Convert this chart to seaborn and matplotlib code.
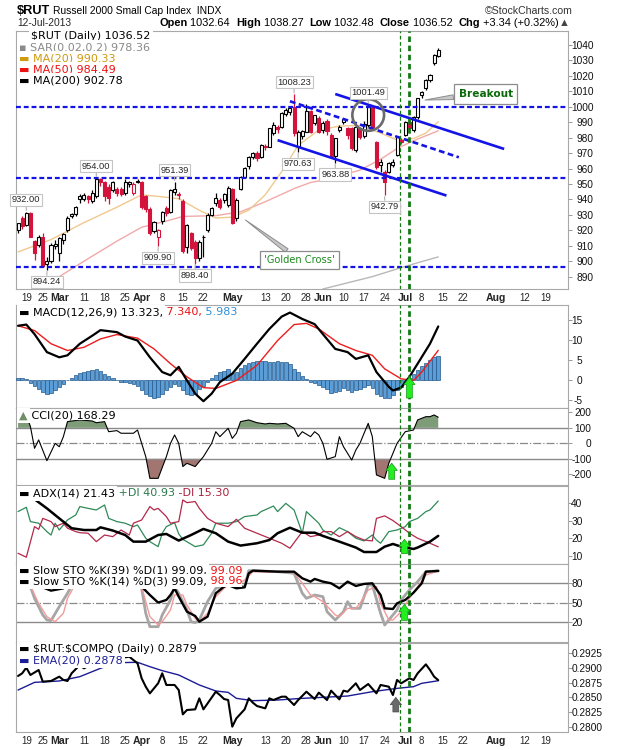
import numpy as np
import pandas as pd
import matplotlib
matplotlib.use('Agg')
import matplotlib.pyplot as plt
import seaborn as sns
from matplotlib.patches import Ellipse

sns.set_theme(style='white')
plt.rcParams['font.family'] = ['DejaVu Sans']
plt.rcParams['axes.unicode_minus'] = False

# ---------------- data ----------------
holidays = ['2013-02-18', '2013-03-29', '2013-05-27', '2013-07-04']
days = pd.bdate_range('2013-02-14', '2013-08-30')
days = days[~days.isin(pd.to_datetime(holidays))]

x_tick_dates = ['2013-02-19', '2013-02-25', '2013-03-01', '2013-03-11', '2013-03-18', '2013-03-25',
                '2013-04-01', '2013-04-08', '2013-04-15', '2013-04-22', '2013-05-01', '2013-05-13',
                '2013-05-20', '2013-05-28', '2013-06-03', '2013-06-10', '2013-06-17', '2013-06-24',
                '2013-07-01', '2013-07-08', '2013-07-15', '2013-07-22', '2013-08-01', '2013-08-12',
                '2013-08-19']
x_tick_labels = ['19', '25', 'Mar', '11', '18', '25', 'Apr', '8', '15', '22', 'May', '13', '20', '28',
                 'Jun', '10', '17', '24', 'Jul', '8', '15', '22', 'Aug', '12', '19']

opens = [920.0, 928.0, 923.5, 931.5, 913.0, 910.5, 916.0, 898.0, 900.0, 910.0,
         905.0, 914.0, 920.5, 929.0, 930.5, 940.0, 940.0, 942.0, 939.0, 942.0,
         953.5, 951.0, 948.0, 946.0, 947.0, 947.0, 944.0, 950.0, 944.5, 951.5,
         951.0, 942.0, 934.0, 919.5, 916.0, 926.0, 934.5, 932.0, 945.0, 943.5,
         939.0, 909.5, 918.0, 912.5, 902.0, 915.5, 920.5, 930.0, 937.5, 939.7,
         939.7, 936.5, 946.6, 927.8, 946.6, 954.8, 961.7, 967.7, 969.9, 967.7,
         974.5, 974.2, 982.8, 986.7, 986.7, 995.3, 996.9, 1000.1, 974.2, 981.0,
         984.0, 997.0, 989.5, 992.5, 985.0, 991.0, 982.0, 968.0, 985.0, 990.4,
         986.0, 986.0, 972.0, 986.0, 981.0, 988.2, 1000.0, 977.4, 962.3, 958.0,
         958.0, 962.3, 968.8, 978.5, 981.8, 990.0, 985.0, 993.6, 1007.6, 1012.0,
         1017.4, 1028.1, 1032.64]
highs = [925.0, 929.0, 932.0, 932.0, 914.0, 917.0, 918.0, 903.0, 912.0, 914.0,
         916.0, 918.0, 929.0, 931.5, 936.0, 943.5, 944.0, 943.0, 946.0, 954.0,
         954.0, 952.0, 950.0, 952.0, 948.0, 948.0, 953.0, 952.0, 951.0, 953.5,
         952.0, 943.0, 935.0, 926.0, 921.0, 932.5, 936.0, 947.0, 951.39, 945.0,
         940.0, 924.0, 919.0, 914.0, 913.5, 917.0, 931.0, 935.0, 944.0, 941.0,
         944.0, 948.5, 947.5, 940.8, 955.0, 961.0, 968.0, 971.0, 971.5, 976.0,
         976.0, 986.5, 990.0, 988.5, 996.5, 999.0, 1000.5, 1008.23, 985.0, 985.0,
         1002.0, 998.0, 995.0, 994.0, 991.0, 992.0, 983.0, 980.0, 988.0, 993.0,
         987.0, 987.0, 988.0, 987.0, 991.0, 1001.49, 1001.0, 978.0, 966.0, 959.0,
         964.0, 966.0, 981.0, 980.0, 991.0, 991.0, 994.0, 1006.0, 1010.0, 1018.0,
         1021.0, 1034.0, 1038.27]
lows = [918.5, 921.0, 923.0, 915.5, 901.0, 909.0, 896.0, 894.24, 899.0, 908.0,
        900.0, 911.0, 919.0, 928.0, 929.5, 938.0, 939.0, 938.0, 938.0, 941.0,
        949.0, 939.0, 937.0, 945.0, 942.0, 942.0, 943.0, 948.0, 943.0, 950.5,
        934.0, 932.0, 917.0, 918.0, 909.90, 924.0, 929.0, 931.5, 943.0, 940.0,
        905.0, 905.0, 907.0, 898.40, 900.0, 903.0, 919.0, 929.0, 936.0, 934.0,
        938.0, 935.0, 924.0, 926.0, 946.0, 954.0, 960.0, 966.0, 965.0, 967.0,
        972.0, 974.0, 982.0, 983.0, 986.0, 994.0, 995.0, 981.0, 970.63, 979.0,
        983.5, 983.0, 988.0, 983.0, 983.0, 982.0, 967.0, 963.88, 984.0, 989.0,
        979.0, 972.0, 971.0, 979.0, 980.0, 987.0, 986.0, 960.0, 958.0, 942.79,
        957.0, 961.0, 968.0, 976.0, 981.0, 985.0, 984.0, 992.0, 1006.0, 1011.0,
        1016.0, 1027.0, 1032.48]
closes = [924.5, 922.5, 931.5, 916.0, 905.5, 916.0, 897.0, 900.0, 910.5, 911.0,
          915.0, 917.5, 928.0, 930.5, 935.0, 942.5, 943.0, 940.0, 944.5, 953.0,
          951.5, 942.0, 941.0, 951.5, 944.0, 943.5, 951.0, 951.5, 950.0, 952.0,
          935.0, 933.5, 918.5, 925.5, 920.5, 932.0, 931.5, 946.0, 947.0, 943.0,
          906.3, 923.5, 908.5, 902.0, 912.5, 916.0, 930.0, 934.3, 940.8, 935.4,
          943.6, 947.2, 924.6, 939.7, 954.4, 960.2, 967.7, 970.3, 966.7, 975.3,
          974.0, 986.0, 988.2, 985.4, 995.8, 997.9, 999.0, 982.8, 983.9, 984.5,
          997.5, 984.0, 994.5, 984.0, 989.5, 984.5, 968.0, 979.5, 987.0, 992.0,
          981.8, 973.0, 987.0, 980.7, 989.0, 1000.0, 987.1, 961.3, 964.5, 951.6,
          963.4, 964.5, 980.7, 977.4, 990.4, 986.0, 993.6, 1005.5, 1009.8, 1017.4,
          1020.6, 1033.5, 1036.52]

ma20_x = [0, 8, 16, 24, 30, 34, 39, 44, 48, 52, 56, 60, 64, 68, 73, 78, 83, 88, 92, 96, 99, 102]
ma20_y = [906, 914, 925, 935, 943, 942, 940.5, 933, 928, 928.5, 933, 943, 958, 975, 985,
          987.5, 988, 983, 978.5, 979.5, 983, 990.33]
ma50_x = [4, 10, 16, 24, 30, 36, 40, 48, 54, 60, 67, 71, 75, 83, 88, 92, 96, 102]
ma50_y = [881, 890, 900, 913, 922, 926, 929, 929.5, 932, 938.5, 947, 951, 953, 959, 966, 973,
          978, 984.49]
ma200_x = [74, 80, 86, 92, 97, 102]
ma200_y = [882, 886, 890, 895, 899, 902.78]

support_levels = [1000, 954, 896]
channel_upper = ([77, 118], [1008.3, 972.7])
channel_lower = ([63, 104], [978.4, 942.5])
channel_mid = ([66, 107], [1003.6, 967.3])
peak_labels = [(2, 'up'), (7, 'down'), (19, 'up'), (34, 'down'), (38, 'up'), (43, 'down'),
               (67, 'up'), (68, 'down'), (77, 'down'), (85, 'up'), (89, 'down')]
signal_days = [92.8, 94.9]

macd_x = [0, 2, 4, 7, 10, 12, 15, 18, 20, 24, 26, 29, 32, 35, 37, 39, 41, 43, 45, 47, 49, 52,
          55, 58, 61, 64, 66, 69, 72, 74, 77, 80, 82, 85, 87, 90, 91, 93, 95, 97, 100, 102]
macd_y = [13.5, 13.8, 11.4, 6.9, 5.6, 6.1, 9.0, 11.0, 12.4, 11.9, 10.8, 9.8, 5.6, 1.9, 1.1,
          3.2, -0.2, -3.5, -5.4, -3.5, -0.6, 1.5, 5.2, 9.0, 12.7, 15.8, 16.8, 15.2, 13.9, 11.4,
          7.7, 6.9, 5.2, 6.1, 1.9, -1.8, -2.7, -2.0, 0.7, 4.0, 9.0, 13.323]
signal_x = [0, 4, 8, 12, 16, 20, 24, 29, 33, 37, 41, 45, 48, 53, 58, 63, 67, 70, 73, 78, 82,
            86, 89, 93, 96, 98, 102]
signal_y = [13.5, 12.3, 9.0, 7.3, 8.1, 10.2, 11.3, 10.4, 7.7, 4.0, 0.7, -2.0, -2.2, -0.2, 3.6,
            9.8, 13.8, 14.1, 12.7, 9.0, 7.3, 6.1, 2.7, 0.2, -0.2, 1.9, 7.34]
macd_hist = [0.3, 0.3, 0.1, -0.8, -1.5, -2.3, -3.2, -3.6, -3.4, -2.5,
             -1.9, -1.0, -0.2, 0.5, 1.2, 1.6, 2.0, 2.1, 2.5, 2.6,
             2.2, 1.4, 1.0, 0.3, -0.2, -0.5, -0.6, -0.8, -1.2, -1.5,
             -2.6, -3.5, -4.2, -4.5, -4.3, -3.6, -2.5, -1.8, -1.2, -1.5,
             -2.7, -3.5, -3.9, -3.5, -2.4, -1.5, -0.6, 0.4, 1.2, 1.9,
             2.2, 2.7, 1.7, 1.9, 2.8, 3.6, 4.2, 4.5, 4.6, 4.6,
             4.7, 4.5, 4.3, 4.6, 4.4, 4.3, 4.0, 2.7, 1.8, 1.0,
             0.2, -0.5, -0.9, -1.3, -1.8, -2.4, -3.3, -3.0, -2.8, -2.1,
             -2.6, -3.0, -2.7, -2.3, -1.9, -1.4, -2.1, -3.5, -4.0, -4.7,
             -4.5, -3.9, -2.7, -1.8, -0.5, 0.5, 1.3, 2.5, 3.5, 4.2,
             4.8, 5.6, 5.983]

cci_x = [0, 2, 3, 4, 5, 7, 9, 10, 11, 12, 15, 18, 19, 21, 22, 24, 25, 28, 29, 31, 32, 34, 36,
         37, 38, 39, 40, 41, 43, 45, 47, 48, 49, 51, 52, 53, 54, 56, 58, 60, 61, 63, 65, 67, 68,
         69, 71, 72, 73, 74, 75, 77, 78, 79, 81, 82, 83, 84, 85, 86, 87, 89, 90, 92, 94, 96, 97,
         99, 100, 101, 102]
cci_y = [194, 183, 108, -32, 22, -112, 0, -22, 43, 140, 151, 144, 133, 140, 75, 82, 65, 65, 86,
         -86, -226, -226, -86, 0, 54, 0, -150, -129, -150, -86, 0, 75, 43, 97, 32, 65, 140, 151,
         133, 125, 129, 125, 129, 97, 43, 75, 43, 75, 54, 0, -103, -86, 43, -22, -108, -43, 0,
         65, 129, 43, -204, -226, -129, 0, 75, 86, 151, 172, 172, 183, 168.29]

adx_x = [3, 4, 7, 10, 13, 16, 19, 20, 23, 26, 28, 31, 34, 36, 39, 42, 45, 48, 51, 54, 58, 61,
         63, 66, 69, 72, 74, 78, 82, 84, 87, 89, 91, 93, 94, 96, 97, 100, 102]
adx_y = [44.0, 41.9, 36.8, 31.2, 25.7, 24.7, 24.7, 26.2, 24.4, 21.9, 18.2, 18.2, 21.9,
         22.5, 18.8, 21.9, 25.3, 22.9, 18.2, 16.0, 17.3, 19.1, 22.9, 26.0, 23.2, 23.2, 21.4, 18.2,
         14.9, 12.4, 12.4, 15.4, 16.9, 15.4, 14.9, 14.1, 14.9, 18.2, 21.43]
pdi_x = [0, 2, 3, 5, 7, 8, 9, 10, 12, 14, 15, 17, 19, 21, 22, 24, 26, 28, 29, 31, 32, 34, 35,
         36, 38, 39, 40, 43, 45, 47, 48, 51, 53, 55, 58, 59, 62, 63, 65, 67, 69, 70, 73, 74, 76,
         78, 80, 82, 84, 86, 87, 88, 90, 92, 94, 95, 97, 99, 100, 102]
pdi_y = [35.0, 37.4, 29.4, 28.5, 23.8, 21.9, 28.5, 24.7, 30.3, 33.1, 37.8, 36.8, 35.9, 38.7,
         31.2, 29.4, 28.5, 26.6, 27.5, 20.1, 18.2, 15.4, 22.9, 26.6, 28.8, 22.5, 19.5, 15.4,
         16.4, 22.9, 28.5, 28.5, 29.4, 32.2, 33.1, 35.0, 38.1, 35.0, 39.6, 35.9, 22.9, 35.0,
         28.5, 24.7, 21.9, 26.0, 23.8, 20.1, 18.6, 21.9, 19.1, 17.3, 23.8, 24.7, 26.6, 29.4,
         31.2, 35.0, 35.9, 40.93]
mdi_x = [0, 2, 4, 5, 6, 8, 9, 11, 12, 14, 15, 17, 19, 21, 23, 25, 27, 28, 30, 32, 33, 34, 36,
         37, 39, 40, 41, 43, 44, 46, 48, 51, 53, 55, 58, 61, 64, 66, 69, 71, 73, 74, 76, 78, 80,
         82, 84, 86, 87, 89, 91, 93, 95, 97, 100, 102]
mdi_y = [11.7, 9.5, 26.6, 25.1, 31.2, 29.4, 26.6, 28.5, 25.7, 23.8, 23.2, 22.9, 18.2, 21.9,
         21.0, 24.7, 21.9, 28.5, 30.3, 37.8, 35.9, 36.8, 32.2, 28.5, 29.4, 41.5, 40.0, 40.6,
         36.8, 31.2, 28.5, 26.6, 30.7, 25.7, 22.9, 20.1, 17.3, 14.5, 23.8, 21.0, 21.9, 23.8,
         23.8, 21.0, 23.8, 21.0, 19.1, 18.6, 31.2, 32.6, 30.0, 26.6, 22.9, 20.1, 17.3, 15.30]

sto39_x = [0, 3, 6, 8, 11, 13, 16, 20, 24, 28, 30, 32, 34, 36, 37, 38, 39, 41, 43, 44, 46, 48,
           50, 51, 53, 55, 56, 57, 63, 67, 69, 71, 72, 74, 76, 78, 80, 82, 84, 86, 88, 89, 91,
           92, 94, 96, 98, 99, 102]
sto39_y = [85, 80, 73.8, 68.7, 72.3, 88, 96, 98, 93, 92, 74.9, 62, 50.3, 54.4, 62, 72.3, 59.5,
           36.4, 29.7, 21, 28.7, 64.6, 74.9, 77.4, 72.3, 73.8, 95.4, 99.5, 97.9, 97.9, 87.7,
           82.6, 86.7, 82.6, 80, 72.3, 82.6, 75.9, 79, 80, 62, 41.5, 40.5, 49.2, 54.4, 65.6, 80,
           97.9, 99.09]
sto14k_x = [0, 3, 4, 6, 7, 8, 10, 12, 14, 17, 21, 25, 29, 30, 31, 32, 34, 35, 37, 38, 39, 41,
            42, 43, 44, 46, 48, 50, 51, 53, 55, 56, 63, 67, 69, 70, 72, 74, 75, 77, 79, 80, 81,
            83, 84, 85, 86, 88, 89, 90, 92, 93, 95, 97, 99, 102]
sto14k_y = [90, 74.9, 56.9, 31.3, 23.6, 22.6, 44.1, 64.6, 88, 95, 92, 90, 85, 72.3, 33.8, 13.3,
            13.3, 31.3, 54.4, 74.9, 64.6, 39, 21, 19.5, 23.6, 51.8, 72.3, 75.9, 79, 75.9, 74.9,
            99.5, 97.9, 95.4, 64.6, 56.9, 62, 59.5, 36.4, 23.6, 36.4, 51.8, 41.5, 41.5, 59.5,
            77.4, 77.4, 33.8, 15.9, 23.6, 39, 54.4, 69.7, 82.6, 97.9, 99.09]
sto14d_x = [0, 3, 5, 7, 9, 11, 12, 14, 17, 21, 25, 29, 30, 32, 34, 35, 37, 38, 40, 41, 43, 44,
            46, 48, 50, 51, 53, 55, 57, 63, 67, 69, 71, 72, 74, 77, 78, 80, 82, 83, 85, 87, 88,
            90, 91, 93, 95, 97, 99, 102]
sto14d_y = [92, 75.9, 49.2, 28.7, 21, 33.8, 56.9, 80, 93, 93, 90, 87, 74.9, 28.7, 15.9, 21, 39,
            62, 62, 46.7, 26.2, 21, 33.8, 59.5, 72.3, 77.4, 77.4, 85.1, 97.9, 97.4, 96.4, 80, 62,
            59.5, 51.8, 31.3, 28.7, 41.5, 41.5, 49.2, 69.7, 74.9, 49.2, 23.6, 23.6, 36.4, 56.9,
            74.9, 92.8, 98.96]

ratio_x = [0, 1, 2, 3, 5, 6, 8, 10, 11, 12, 13, 15, 16, 17, 19, 21, 23, 25, 26, 27, 29, 30, 31,
           32, 34, 35, 36, 38, 39, 40, 41, 43, 44, 45, 48, 49, 50, 51, 52, 53, 55, 56, 57, 58,
           60, 61, 62, 64, 65, 67, 68, 70, 72, 73, 75, 76, 78, 79, 80, 82, 83, 85, 87, 88, 90,
           91, 92, 93, 95, 96, 97, 99, 100, 101, 102]
ratio_y = [0.28860, 0.28905, 0.29000, 0.28877, 0.28961, 0.28765, 0.28776, 0.28849, 0.28793,
           0.28776, 0.28905, 0.29045, 0.28989, 0.29028, 0.29120, 0.29180, 0.29150, 0.29213,
           0.29174, 0.29185, 0.29073, 0.28821, 0.28680, 0.28568, 0.28737, 0.28905, 0.28709,
           0.28709, 0.28624, 0.28215, 0.28288, 0.28299, 0.28484, 0.28299, 0.28596, 0.28540,
           0.28473, 0.28456, 0.28008, 0.28148, 0.28299, 0.28484, 0.28411, 0.28355, 0.28316,
           0.28484, 0.28456, 0.28512, 0.28512, 0.28372, 0.28456, 0.28596, 0.28473, 0.28580,
           0.28456, 0.28613, 0.28467, 0.28613, 0.28596, 0.28737, 0.28624, 0.28725, 0.28568,
           0.28709, 0.28680, 0.28540, 0.28793, 0.28737, 0.28821, 0.28793, 0.28905, 0.29056,
           0.28961, 0.28849, 0.28790]
ema_x = [0, 4, 10, 15, 20, 24, 29, 32, 35, 39, 44, 48, 51, 53, 57, 63, 69, 74, 80, 86, 92, 96,
         98, 102]
ema_y = [0.28624, 0.28753, 0.28776, 0.28849, 0.28989, 0.29084, 0.29090, 0.29017, 0.28950,
         0.28877, 0.28709, 0.28608, 0.28585, 0.28484, 0.28445, 0.28456, 0.28484, 0.28501,
         0.28523, 0.28596, 0.28652, 0.28680, 0.28737, 0.28780]

# ---------------- layout ----------------
W, H = 620, 750
L, R = 16, 568
RED = '#d4133c'
GREEN_V = '#137a13'
AF = ['Liberation Sans', 'DejaVu Sans']   # arial-like face for axis numbers / header
LEG = 8.0

fig = plt.figure(figsize=(W / 100, H / 100), dpi=100)
fig.patch.set_facecolor('white')

tick_pos = [int(np.where(days == pd.Timestamp(d))[0][0]) for d in x_tick_dates]
panels = []


def panel(top, bottom, ylim, yticks, fmt='{:g}'):
    ax = fig.add_axes([L / W, 1 - bottom / H, (R - L) / W, (bottom - top) / H])
    ax.set_facecolor('white')
    for s in ax.spines.values():
        s.set_color('#a8a8a8')
        s.set_linewidth(0.8)
    ax.yaxis.tick_right()
    ax.set_yticks(yticks)
    ax.set_yticklabels([fmt.format(v) for v in yticks], family=AF, ha='right')
    ax.tick_params(axis='y', direction='out', length=3, width=0.6, color='#888888',
                   labelsize=7.3, labelcolor='#111111')
    ax.set_xticks([])
    ax.grid(False)
    ax._lim = (ylim, top, bottom)
    panels.append(ax)
    return ax


def finish(ax):
    ylim, _, _ = ax._lim
    ax.set_xlim(-0.5, 133.5)
    ax.set_ylim(*ylim)
    ax.set_xlabel('')
    ax.set_ylabel('')


def date_axis(ax):
    ax.set_xticks(tick_pos)
    ax.set_xticklabels(x_tick_labels, family=AF)
    ax.tick_params(axis='x', direction='out', length=2, width=0.6, color='#888888',
                   labelsize=7.0, pad=1.2)
    for t in ax.get_xticklabels():
        if t.get_text().isalpha():
            t.set_fontweight('bold')
            t.set_fontsize(7.6)


def legend_row(ax, xf, yf, parts, size=LEG, family=None, bg=True):
    prev = None
    for s, c, w in parts:
        kw = dict(fontsize=size, color=c, fontweight=w, va='center', ha='left', zorder=30)
        if family:
            kw['family'] = family
        if bg:
            kw['bbox'] = dict(fc='white', ec='none', pad=1.6 if prev is None else 0.0)
        if prev is None:
            prev = ax.text(xf, yf, s, transform=ax.transAxes, **kw)
        else:
            prev = ax.annotate(s, xy=(1, 0.5), xycoords=prev, **kw)


def panel_legend(ax, ypix, parts, xpix=19):
    _, top, bottom = ax._lim
    legend_row(ax, (xpix - L) / (R - L), (bottom - ypix) / (bottom - top), parts)


def signal_marks(ax):
    ax.axvline(signal_days[0], color=GREEN_V, lw=0.9, ls=(0, (3, 2)), zorder=12)
    ax.axvline(signal_days[1], color=GREEN_V, lw=2.0, ls=(0, (2, 1.3)), zorder=12)


def up_arrow(ax, x, y0, y1, fc='#22ee22', ec='#119911'):
    ax.annotate('', xy=(x, y1), xytext=(x, y0), zorder=25,
                arrowprops=dict(arrowstyle='simple,head_width=1.15,head_length=0.75,tail_width=0.6',
                                fc=fc, ec=ec, lw=0.5, shrinkA=0, shrinkB=0, mutation_scale=7))


def line(ax, x, y, color, lw, z=5, alpha=1.0):
    sns.lineplot(x=x, y=y, ax=ax, color=color, lw=lw, sort=False, estimator=None,
                 zorder=z, alpha=alpha)


# ---------------- header ----------------
hdr = fig.add_axes([0, 0, 1, 1])
hdr.axis('off')
legend_row(hdr, 17 / W, 1 - 11 / H, [('\\$RUT', 'black', 'bold')], size=9.2, family=AF, bg=False)
legend_row(hdr, 53 / W, 1 - 11 / H, [('Russell 2000 Small Cap Index', 'black', 'normal'),
                                     ('  INDX', 'black', 'normal')], size=7.4, family=AF, bg=False)
hdr.text(573 / W, 1 - 11 / H, '\u00a9StockCharts.com', ha='right', va='center', fontsize=7.6,
         family=AF, color='#333333')
hdr.text(17 / W, 1 - 23.5 / H, '12-Jul-2013', ha='left', va='center', fontsize=7.4, family=AF)
legend_row(hdr, 159 / W, 1 - 23.5 / H,
           [('Open', 'black', 'bold'), (' 1032.64  ', 'black', 'normal'),
            ('High', 'black', 'bold'), (' 1038.27  ', 'black', 'normal'),
            ('Low', 'black', 'bold'), (' 1032.48  ', 'black', 'normal'),
            ('Close', 'black', 'bold'), (' 1036.52  ', 'black', 'normal'),
            ('Chg', 'black', 'bold'), (' +3.34 (+0.32%)', 'black', 'normal'),
            ('\u25b2', '#444444', 'normal')], size=7.9, family=AF, bg=False)

# ---------------- price panel ----------------
ax = panel(31, 289, (882.0, 1049.1), list(range(890, 1041, 10)))
line(ax, ma200_x, ma200_y, '#b8b8b8', 1.0, z=3)
line(ax, ma50_x, ma50_y, '#f3a9a9', 1.0, z=3)
line(ax, ma20_x, ma20_y, '#f0c98e', 1.0, z=3)

for i, (o, h, lo, c) in enumerate(zip(opens, highs, lows, closes)):
    prev = closes[i - 1] if i else o
    col = RED if c < prev else 'black'
    ax.vlines(i, lo, h, color=col, lw=0.9, zorder=6)
    body = max(abs(c - o), 0.45)
    ax.bar(i, body, bottom=min(o, c), width=0.74, color='white' if c >= o else col,
           edgecolor=col, lw=0.8, zorder=7)

for lvl in support_levels:
    ax.axhline(lvl, color='#1414e6', lw=1.6, ls=(0, (2.2, 1.3)), zorder=8)
for (xs, ys), style in [(channel_upper, '-'), (channel_lower, '-'), (channel_mid, (0, (2.2, 1.3)))]:
    ax.plot(xs, ys, color='#1414e6', lw=1.9, ls=style, zorder=9, solid_capstyle='butt')
ax.add_patch(Ellipse((85, 994.7), 7.7, 20.5, fill=False, ec='#6a6a6a', lw=1.9, zorder=10))
signal_marks(ax)

for i, side in peak_labels:
    v = highs[i] if side == 'up' else lows[i]
    dy = 8.5 if side == 'up' else -8.5
    ax.annotate(f'{v:.2f}', xy=(i, v), xytext=(0, dy), textcoords='offset points', ha='center',
                va='center', fontsize=6.7, family=AF, zorder=20,
                bbox=dict(boxstyle='square,pad=0.18', fc='white', ec='#c4c4c4', lw=0.8),
                arrowprops=dict(arrowstyle='-', color='#b0b0b0', lw=0.8, shrinkA=0, shrinkB=1))

ax.annotate('Breakout', xy=(98.8, 1004.4), xytext=(113.5, 1008.3), ha='center', va='center',
            fontsize=7.6, fontweight='bold', color='#0a6a0a', zorder=21,
            bbox=dict(boxstyle='square,pad=0.45', fc='white', ec='#8c8c8c', lw=0.9),
            arrowprops=dict(arrowstyle='wedge,tail_width=0.45', fc='#c8c8c8', ec='#8c8c8c',
                            lw=0.7, shrinkA=0, shrinkB=0))
ax.annotate("'Golden Cross'", xy=(55.2, 926.7), xytext=(68.3, 900.8), ha='center', va='center',
            fontsize=7.1, color='#1f8a1f', zorder=21,
            bbox=dict(boxstyle='square,pad=0.4', fc='white', ec='#8c8c8c', lw=0.9),
            arrowprops=dict(arrowstyle='wedge,tail_width=0.45', fc='#c8c8c8', ec='#8c8c8c',
                            lw=0.7, shrinkA=0, shrinkB=0))

panel_legend(ax, 36, [('\\$RUT (Daily) 1036.52', 'black', 'normal')], xpix=31)
panel_legend(ax, 47.5, [('\u25aa SAR(0.02,0.2) 978.36', '#8a8a8a', 'normal')])
panel_legend(ax, 58.5, [('\u25ac MA(20) 990.33', '#cf9a10', 'normal')])
panel_legend(ax, 69.5, [('\u25ac MA(50) 984.49', '#ee1111', 'normal')])
panel_legend(ax, 80.5, [('\u25ac MA(200) 902.78', 'black', 'normal')])
finish(ax)
date_axis(ax)

# ---------------- MACD ----------------
ax = panel(305, 408, (-7.1, 18.7), [-5, 0, 5, 10, 15])
ax.bar(range(len(macd_hist)), macd_hist, width=0.85, color='#5b9dd6', edgecolor='#24588c',
       lw=0.5, zorder=3)
line(ax, signal_x, signal_y, '#ee1c1c', 1.0, z=5)
line(ax, macd_x, macd_y, 'black', 1.6, z=6)
signal_marks(ax)
up_arrow(ax, 95.0, -4.6, 0.6)
panel_legend(ax, 312, [('\u25ac MACD(12,26,9) 13.323,', 'black', 'normal'),
                       (' 7.340,', '#ee1111', 'normal'), (' 5.983', '#2f8fd8', 'normal')])
finish(ax)

# ---------------- CCI ----------------
ax = panel(408, 485, (-269, 228), [-200, -100, 0, 100, 200])
cx = np.array(cci_x, dtype=float)
cy = np.array(cci_y, dtype=float)
ax.fill_between(cx, cy, 100, where=cy > 100, interpolate=True, color='#7e9c77', zorder=3, lw=0)
ax.fill_between(cx, cy, -100, where=cy < -100, interpolate=True, color='#a27570', zorder=3, lw=0)
ax.axhline(100, color='#8a8a8a', lw=1.0, zorder=4)
ax.axhline(-100, color='#8a8a8a', lw=1.0, zorder=4)
ax.axhline(0, color='#8a8a8a', lw=0.9, ls='-.', zorder=4)
line(ax, cci_x, cci_y, 'black', 0.8, z=6)
signal_marks(ax)
up_arrow(ax, 90.7, -232, -128)
panel_legend(ax, 415.5, [('\u25b2', '#6f8f68', 'normal'), (' CCI(20) 168.29', 'black', 'normal')])
finish(ax)

# ---------------- ADX ----------------
ax = panel(486, 564, (5.7, 49.3), [10, 20, 30, 40])
line(ax, pdi_x, pdi_y, '#2f8a58', 0.9, z=4)
line(ax, mdi_x, mdi_y, '#b3284a', 0.9, z=4)
line(ax, adx_x, adx_y, 'black', 1.8, z=6)
signal_marks(ax)
up_arrow(ax, 93.8, 11.5, 19.5)
panel_legend(ax, 493.5, [('\u25ac ADX(14) 21.43', 'black', 'normal'),
                         (' +DI 40.93', '#2a7a4c', 'normal'), (' -DI 15.30', '#a8223f', 'normal')])
finish(ax)

# ---------------- Slow stochastics ----------------
ax = panel(564, 642, (-10.3, 109.7), [20, 50, 80])
ax.axhline(80, color='#8a8a8a', lw=1.0, zorder=2)
ax.axhline(20, color='#8a8a8a', lw=1.0, zorder=2)
ax.axhline(50, color='#8a8a8a', lw=0.9, ls='-.', zorder=2)
line(ax, sto14k_x, sto14k_y, '#a6a6a6', 2.0, z=4)
line(ax, sto14d_x, sto14d_y, '#f39a9a', 1.0, z=5)
line(ax, sto39_x, sto39_y, 'black', 1.7, z=6)
signal_marks(ax)
up_arrow(ax, 93.8, 23.0, 47.5)
panel_legend(ax, 570.5, [('\u25ac Slow STO %K(39) %D(1) 99.09,', 'black', 'normal'),
                         (' 99.09', '#ee1111', 'normal')])
panel_legend(ax, 581.5, [('\u25ac Slow STO %K(14) %D(3) 99.09,', 'black', 'normal'),
                         (' 98.96', '#ee1111', 'normal')])
finish(ax)

# ---------------- $RUT:$COMPQ ----------------
ax = panel(643, 732, (0.27918, 0.29415), [0.2800, 0.2825, 0.2850, 0.2875, 0.2900, 0.2925],
           fmt='{:.4f}')
line(ax, ema_x, ema_y, '#1c1c96', 1.0, z=4)
line(ax, ratio_x, ratio_y, 'black', 1.5, z=5)
signal_marks(ax)
up_arrow(ax, 91.7, 0.28255, 0.28500, fc='#6a6a6a', ec='#4a4a4a')
panel_legend(ax, 649.5, [('\u25ac \\$RUT:\\$COMPQ (Daily) 0.2879', 'black', 'normal')])
panel_legend(ax, 660.5, [('\u25ac EMA(20) 0.2878', '#1c1c96', 'normal')])
finish(ax)
date_axis(ax)

# right-aligned price labels, widest one sitting just past the tick
renderer = fig.canvas.get_renderer()
for a in panels:
    widest = max(t.get_window_extent(renderer).width for t in a.get_yticklabels())
    a.tick_params(axis='y', pad=(widest - 1.0) * 0.72)

fig.savefig('out.png', dpi=100, facecolor='white')
